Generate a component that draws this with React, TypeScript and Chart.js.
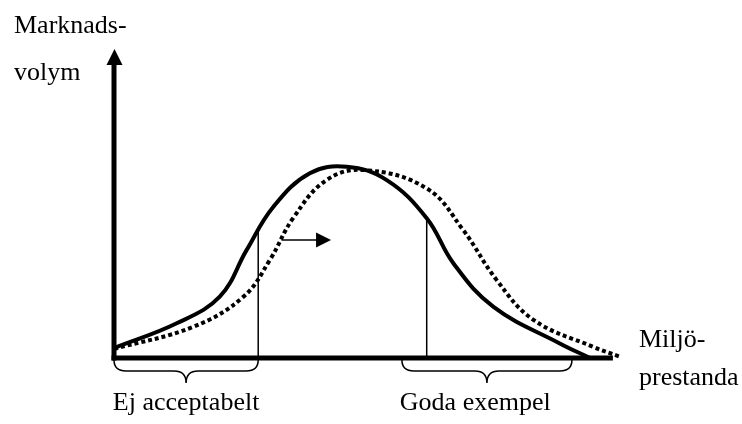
import React, { useEffect, useRef } from "react";
import { Chart, registerables } from "chart.js";

Chart.register(...registerables);

// Solid curve: current market volume vs environmental performance
const solidX = [0, 12.4, 20.9, 26.2, 31.5, 38.7, 46, 53.9, 61.8, 67.1, 75.0, 88.1, 94.1];
const solidY = [3.2, 11.2, 19.8, 34.8, 48.8, 59.6, 61.7, 57.4, 45.1, 30.5, 16.5, 4.7, 0];

// Dotted curve: shifted distribution
const dottedX = [0, 15.7, 25.6, 30.8, 35.4, 42.0, 49.6, 61.8, 69.0, 75.6, 82.9, 94.7, 100];
const dottedY = [2.9, 10.1, 19.8, 31.6, 45.1, 57.4, 60.6, 54.7, 41.3, 25.2, 12.3, 3.6, 0.4];

// Thresholds (vertical markers)
const thresholdX = [28.5, 61.8];
const thresholdY = [41.8, 45.1];

// Shift arrow
const shiftArrowX = [33.1, 42.7];
const shiftArrowY = 38.1;

// Braces and their labels
const braceRanges: [number, number][] = [[0, 28.5], [56.9, 90.5]];
const braceLabels = ["Ej acceptabelt", "Goda exempel"];
const braceLabelX = [14.25, 71.4];

const yAxisLabel = ["Marknads-", "volym"];
const xAxisLabel = ["Miljö-", "prestanda"];
const xAxisEnd = 98.6;

const FONT = '26px "Liberation Serif", "Times New Roman", serif';

const decor = {
  id: "decor",
  afterDatasetsDraw(chart: any) {
    const ctx = chart.ctx as CanvasRenderingContext2D;
    const xs = chart.scales.x;
    const ys = chart.scales.y;
    const x0 = xs.getPixelForValue(0);
    const y0 = ys.getPixelForValue(0);
    const yTop = ys.getPixelForValue(100);
    ctx.save();
    ctx.fillStyle = "#000";
    ctx.strokeStyle = "#000";

    // y axis with arrow
    ctx.lineWidth = 5;
    ctx.lineCap = "butt";
    ctx.beginPath();
    ctx.moveTo(x0, y0 + 2.5);
    ctx.lineTo(x0, yTop + 14);
    ctx.stroke();
    ctx.beginPath();
    ctx.moveTo(x0 + 0.5, yTop + 1);
    ctx.lineTo(x0 - 7.5, yTop + 17);
    ctx.lineTo(x0 + 8.5, yTop + 17);
    ctx.closePath();
    ctx.fill();

    // x axis
    ctx.beginPath();
    ctx.moveTo(x0 - 2.5, y0);
    ctx.lineTo(xs.getPixelForValue(xAxisEnd), y0);
    ctx.stroke();

    // shift arrow head
    const ax2 = xs.getPixelForValue(shiftArrowX[1]);
    const ay = ys.getPixelForValue(shiftArrowY);
    ctx.beginPath();
    ctx.moveTo(ax2 + 1, ay);
    ctx.lineTo(ax2 - 14, ay - 7.5);
    ctx.lineTo(ax2 - 14, ay + 7.5);
    ctx.closePath();
    ctx.fill();

    // braces
    ctx.lineWidth = 1.5;
    const bTop = y0 + 2;
    const bMid = y0 + 13;
    const bTip = y0 + 25;
    const r = 12;
    braceRanges.forEach(([a, b], i) => {
      const x1 = xs.getPixelForValue(a);
      const x2 = xs.getPixelForValue(b);
      const xm = (x1 + x2) / 2;
      ctx.beginPath();
      ctx.moveTo(x1, bTop);
      ctx.quadraticCurveTo(x1, bMid, x1 + r, bMid);
      ctx.lineTo(xm - r, bMid);
      ctx.quadraticCurveTo(xm, bMid, xm, bTip);
      ctx.quadraticCurveTo(xm, bMid, xm + r, bMid);
      ctx.lineTo(x2 - r, bMid);
      ctx.quadraticCurveTo(x2, bMid, x2, bTop);
      ctx.stroke();
      ctx.font = FONT;
      ctx.textAlign = "center";
      ctx.textBaseline = "alphabetic";
      ctx.fillText(braceLabels[i], xs.getPixelForValue(braceLabelX[i]), 410);
    });

    // axis labels
    ctx.font = FONT;
    ctx.textAlign = "left";
    ctx.textBaseline = "alphabetic";
    ctx.fillText(yAxisLabel[0], 14, 33);
    ctx.fillText(yAxisLabel[1], 14, 80);
    ctx.fillText(xAxisLabel[0], 639, 347);
    ctx.fillText(xAxisLabel[1], 639, 385);
    ctx.restore();
  },
};

export default function App() {
  const ref = useRef<HTMLCanvasElement | null>(null);
  useEffect(() => {
    document.body.style.margin = "0";
    const canvas = ref.current!;
    const mk = (xa: number[], ya: number[]) => xa.map((x, i) => ({ x, y: ya[i] }));
    const chart = new Chart(canvas, {
      type: "scatter",
      data: {
        datasets: [
          {
            data: mk(dottedX, dottedY),
            showLine: true,
            borderColor: "#000",
            borderWidth: 4,
            borderDash: [4, 3],
            borderCapStyle: "butt",
            tension: 0.4,
            pointRadius: 0,
            clip: false as any,
          },
          {
            data: mk(solidX, solidY),
            showLine: true,
            borderColor: "#000",
            borderWidth: 4,
            tension: 0.4,
            pointRadius: 0,
            clip: false as any,
          },
          ...thresholdX.map((tx, i) => ({
            data: [{ x: tx, y: 0 }, { x: tx, y: thresholdY[i] }],
            showLine: true,
            borderColor: "#000",
            borderWidth: 1.5,
            pointRadius: 0,
            clip: false as any,
          })),
          {
            data: [{ x: shiftArrowX[0], y: shiftArrowY }, { x: shiftArrowX[1] - 2, y: shiftArrowY }],
            showLine: true,
            borderColor: "#000",
            borderWidth: 1.5,
            pointRadius: 0,
            clip: false as any,
          },
        ],
      },
      options: {
        responsive: false,
        animation: false,
        layout: { padding: { left: 114, right: 122, top: 48, bottom: 66 } },
        plugins: { legend: { display: false }, tooltip: { enabled: false }, title: { display: false } },
        scales: {
          x: { type: "linear", min: 0, max: 100, display: false },
          y: { type: "linear", min: 0, max: 100, display: false },
        },
      },
      plugins: [decor],
    });
    return () => chart.destroy();
  }, []);
  return (
    <div style={{ position: "absolute", left: 0, top: 0, width: 742, height: 424, background: "#fff" }}>
      <canvas ref={ref} width={742} height={424} />
    </div>
  );
}
